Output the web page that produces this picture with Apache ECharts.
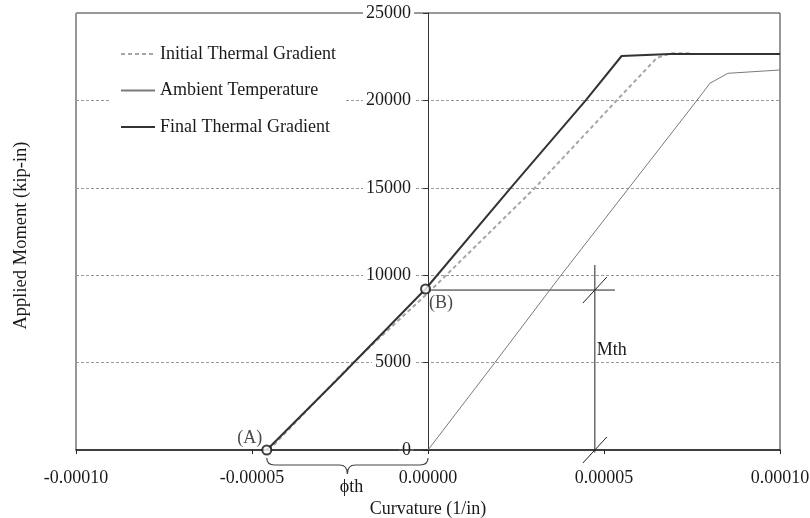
<!DOCTYPE html>
<html>
<head>
<meta charset="utf-8">
<script src="https://cdn.jsdelivr.net/npm/echarts@6/dist/echarts.min.js"></script>
<style>
html,body{margin:0;padding:0;background:#fff;}
#chart{width:810px;height:518px;}
</style>
</head>
<body>
<div id="chart"></div>
<script>
// ---- data ----
const seriesNames = ['Initial Thermal Gradient', 'Ambient Temperature', 'Final Thermal Gradient'];

const initialX = [-0.0000452, -0.0000213, 0.0000006, 0.0000304, 0.0000536, 0.0000650, 0.0000688, 0.0000750];
const initialY = [0, 5000, 9100, 15000, 20000, 22430, 22690, 22700];

const ambientX = [0, 0.0000190, 0.0000378, 0.0000764, 0.0000801, 0.0000852, 0.0001000];
const ambientY = [0, 5000, 10000, 20000, 20980, 21550, 21740];

const finalX = [-0.0000458, -0.0000250, -0.0000007, 0.0000235, 0.0000448, 0.0000550, 0.0000688, 0.0001000];
const finalY = [0, 4190, 9210, 15000, 20000, 22540, 22650, 22650];

// annotation points
const pointA = [-0.0000458, 0];
const pointB = [-0.0000007, 9210];
const mthX = 0.0000474;          // vertical Mth line position
const mthTop = 10580;            // top of vertical Mth line
const mthLineY = 9150;           // horizontal line from B
const mthHorizEnd = 0.0000531;   // end of horizontal line from B
const mthLabelY = 5720;

const xTickLabels = ['-0.00010', '-0.00005', '0.00000', '0.00005', '0.00010'];
const yTickLabels = ['0', '5000', '10000', '15000', '20000', '25000'];

function zip(xs, ys) { return xs.map((x, i) => [x, ys[i]]); }

const FONT = 'Liberation Serif';
const FS = 18;
const TXT = '#1a1a1a';

const chart = echarts.init(document.getElementById('chart'), null, {renderer: 'canvas'});

const option = {
  backgroundColor: '#fff',
  animation: false,
  textStyle: {fontFamily: FONT, color: TXT},
  grid: {
    left: 76, right: 30, top: 13, bottom: 68,
    containLabel: false, outerBoundsMode: 'none',
    show: true, borderColor: '#333', borderWidth: 1, backgroundColor: 'transparent'
  },
  legend: {
    data: seriesNames,
    orient: 'vertical',
    left: 110, top: 39,
    padding: [6, 10, 6, 10],
    backgroundColor: '#fff',
    itemWidth: 34, itemHeight: 14, itemGap: 18.5,
    itemStyle: {opacity: 0},
    textStyle: {fontFamily: FONT, fontSize: FS, color: TXT, padding: [0, 0, 0, 0]}
  },
  xAxis: {
    type: 'value', z: 2,
    min: -0.0001, max: 0.0001, interval: 0.00005,
    name: 'Curvature (1/in)',
    nameLocation: 'middle', nameGap: 50,
    nameTextStyle: {fontFamily: FONT, fontSize: FS, color: TXT},
    axisLine: {show: true, onZero: false, lineStyle: {color: '#222', width: 1.5}},
    axisTick: {show: true, length: 4, lineStyle: {color: '#222'}},
    axisLabel: {
      margin: 19, fontFamily: FONT, fontSize: FS, color: TXT,
      formatter: function (v) {
        const i = Math.round((v + 0.0001) / 0.00005);
        return xTickLabels[i] !== undefined ? xTickLabels[i] : v.toFixed(5);
      }
    },
    splitLine: {show: false}
  },
  yAxis: {
    type: 'value', z: 1,
    min: 0, max: 25000, interval: 5000,
    position: 'left', offset: -352,
    name: 'Applied Moment (kip-in)',
    nameLocation: 'middle', nameGap: 397, nameRotate: 90,
    nameTextStyle: {fontFamily: FONT, fontSize: 18.5, color: TXT, padding: [0, 8, 0, 0]},
    axisLine: {show: true, onZero: false, lineStyle: {color: '#333', width: 1}},
    axisTick: {show: true, length: 5, lineStyle: {color: '#333'}},
    axisLabel: {
      margin: 14, fontFamily: FONT, fontSize: FS, color: TXT,
      backgroundColor: '#fff', padding: [0, 3, 0, 3],
      formatter: function (v) {
        const i = Math.round(v / 5000);
        return yTickLabels[i] !== undefined ? yTickLabels[i] : String(v);
      }
    },
    splitLine: {show: true, lineStyle: {color: '#999', type: [3, 2], width: 1}}
  },
  series: [
    {
      name: seriesNames[0], type: 'line', symbol: 'none', z: 3,
      data: zip(initialX, initialY),
      lineStyle: {color: '#a6a6a6', width: 2, type: [4, 3]},
      itemStyle: {color: '#a6a6a6'}
    },
    {
      name: seriesNames[1], type: 'line', symbol: 'none', z: 3,
      data: zip(ambientX, ambientY),
      lineStyle: {color: '#7a7a7a', width: 1},
      itemStyle: {color: '#7a7a7a'}
    },
    {
      name: seriesNames[2], type: 'line', symbol: 'none', z: 4,
      data: zip(finalX, finalY),
      lineStyle: {color: '#333', width: 2},
      itemStyle: {color: '#333'}
    },
    // Mth horizontal line from B
    {
      name: 'mthH', type: 'line', symbol: 'none', silent: true, z: 2,
      data: [[pointB[0], mthLineY], [mthHorizEnd, mthLineY]],
      lineStyle: {color: '#222', width: 1}
    },
    // Mth vertical line
    {
      name: 'mthV', type: 'line', symbol: 'none', silent: true, z: 2, clip: false,
      data: [[mthX, -150], [mthX, mthTop]],
      lineStyle: {color: '#222', width: 1}
    },
    // markers A and B
    {
      name: 'markers', type: 'scatter', silent: true, z: 6,
      symbol: 'circle', symbolSize: 9,
      itemStyle: {color: '#fff', borderColor: '#111', borderWidth: 2},
      data: [
        {value: pointA, label: {show: true, formatter: '(A)', position: 'left', offset: [6, -12]}},
        {value: pointB, label: {show: true, formatter: '(B)', position: 'right', offset: [-7, 14]}}
      ],
      label: {fontFamily: FONT, fontSize: FS, color: TXT}
    },
    // Mth label, break marks, brace and phi-th label
    {
      name: 'annot', type: 'custom', silent: true, clip: false, z: 5,
      data: [[0]],
      renderItem: function (params, api) {
        const a = api.coord(pointA);
        const o = api.coord([0, 0]);
        const v0 = api.coord([mthX, 0]);
        const v1 = api.coord([mthX, mthLineY]);
        const lbl = api.coord([mthX, mthLabelY]);
        const x1 = a[0], x2 = o[0], y0 = o[1];
        const mid = (x1 + x2) / 2;
        const top = y0 + 8, bar = y0 + 15, tip = y0 + 24;
        const brace = 'M' + x1 + ',' + top +
          ' Q' + x1 + ',' + bar + ' ' + (x1 + 8) + ',' + bar +
          ' L' + (mid - 8) + ',' + bar +
          ' Q' + mid + ',' + bar + ' ' + mid + ',' + tip +
          ' Q' + mid + ',' + bar + ' ' + (mid + 8) + ',' + bar +
          ' L' + (x2 - 8) + ',' + bar +
          ' Q' + x2 + ',' + bar + ' ' + x2 + ',' + top;
        const sl = 12, sh = 13;
        return {
          type: 'group',
          children: [
            {type: 'path', shape: {pathData: brace}, style: {fill: 'none', stroke: '#444', lineWidth: 1.2}},
            {type: 'line', shape: {x1: v1[0] - sl, y1: v1[1] + sh, x2: v1[0] + sl, y2: v1[1] - sh}, style: {stroke: '#222', lineWidth: 1}},
            {type: 'line', shape: {x1: v0[0] - sl, y1: v0[1] + sh, x2: v0[0] + sl, y2: v0[1] - sh}, style: {stroke: '#222', lineWidth: 1}},
            {type: 'text', style: {text: 'Mth', x: lbl[0] + 2, y: lbl[1], verticalAlign: 'middle', align: 'left', font: FS + 'px "Liberation Serif"', fill: TXT}},
            {type: 'text', style: {text: 'ϕth', x: mid + 4, y: y0 + 37, verticalAlign: 'middle', align: 'center', font: FS + 'px "Liberation Serif"', fill: TXT}}
          ]
        };
      }
    }
  ]
};
chart.setOption(option);
</script>
</body>
</html>
